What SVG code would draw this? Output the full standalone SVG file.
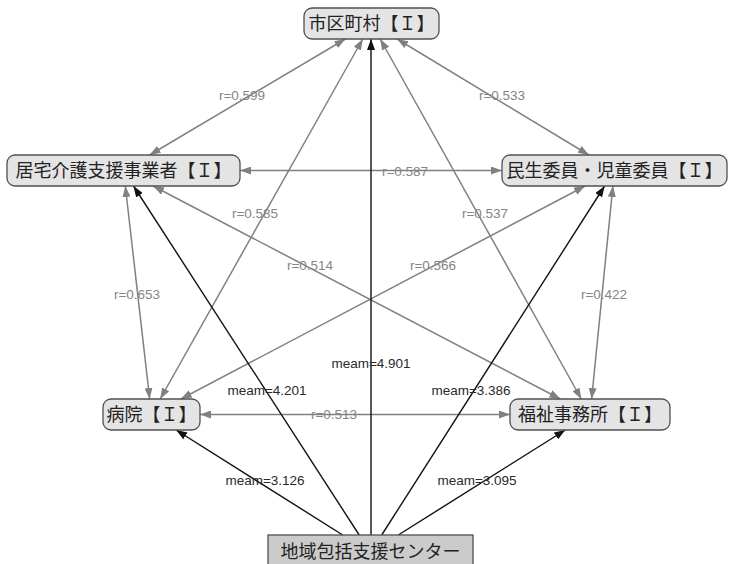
<svg xmlns="http://www.w3.org/2000/svg" width="730" height="564" viewBox="0 0 730 564">
  <style>
    .node rect { fill: #e4e4e4; stroke: #505050; stroke-width: 1.3; }
    .node.hub rect { fill: #cbcbcb; }
    .node text { font-family: "Noto Sans CJK JP", "Noto Sans", sans-serif; font-size: 18px; fill: #222; text-anchor: middle; }
    .corr { stroke: #808080; stroke-width: 1.5; fill: none; marker-start: url(#arrGray); marker-end: url(#arrGray); }
    .mean { stroke: #111; stroke-width: 1.4; fill: none; marker-end: url(#arrBlack); }
    .lbl { font-family: "Liberation Sans", Arial, sans-serif; font-size: 13.5px; text-anchor: middle; }
    .lbl.r { fill: #858585; }
    .lbl.m { fill: #2a2a2a; }
  </style>
  <defs>
    <marker id="arrGray" viewBox="0 0 11 8" refX="11" refY="4" markerWidth="11" markerHeight="8" markerUnits="userSpaceOnUse" orient="auto-start-reverse">
      <path d="M0,0 L11,4 L0,8 z" fill="#808080"/>
    </marker>
    <marker id="arrBlack" viewBox="0 0 11 8" refX="11" refY="4" markerWidth="11" markerHeight="8" markerUnits="userSpaceOnUse" orient="auto">
      <path d="M0,0 L11,4 L0,8 z" fill="#111"/>
    </marker>
  </defs>

  <!-- connectors -->
  <g id="connectors">
    <!-- correlations between the five partners (double-headed) -->
    <line class="corr" x1="345.4" y1="39" x2="149.6" y2="155"/>
    <line class="corr" x1="397.1" y1="39" x2="588.9" y2="155"/>
    <line class="corr" x1="362.8" y1="39" x2="160.2" y2="399"/>
    <line class="corr" x1="380.2" y1="39" x2="581.3" y2="399"/>
    <line class="corr" x1="240" y1="170.5" x2="502" y2="170.5"/>
    <line class="corr" x1="125.3" y1="186" x2="149.7" y2="399"/>
    <line class="corr" x1="612.9" y1="186" x2="591.6" y2="399"/>
    <line class="corr" x1="153.1" y1="186" x2="560.4" y2="399"/>
    <line class="corr" x1="585.1" y1="186" x2="180.9" y2="399"/>
    <line class="corr" x1="200" y1="414.5" x2="510" y2="414.5"/>
    <!-- means from the centre -->
    <line class="mean" x1="371" y1="535" x2="371" y2="39"/>
    <line class="mean" x1="359.2" y1="535" x2="133.5" y2="186"/>
    <line class="mean" x1="381.7" y1="535" x2="604.6" y2="186"/>
    <line class="mean" x1="342.7" y1="535" x2="176.1" y2="430"/>
    <line class="mean" x1="398.3" y1="535" x2="565.3" y2="430"/>

    <!-- edge labels -->
    <text class="lbl r" x="242" y="100">r=0.599</text>
    <text class="lbl r" x="502" y="100">r=0.533</text>
    <text class="lbl r" x="405" y="176">r=0.587</text>
    <text class="lbl r" x="255" y="218">r=0.585</text>
    <text class="lbl r" x="485" y="218">r=0.537</text>
    <text class="lbl r" x="310" y="270">r=0.514</text>
    <text class="lbl r" x="433" y="270">r=0.566</text>
    <text class="lbl r" x="137" y="299">r=0.653</text>
    <text class="lbl r" x="604" y="299">r=0.422</text>
    <text class="lbl r" x="334" y="419">r=0.513</text>
    <text class="lbl m" x="371" y="368">meam=4.901</text>
    <text class="lbl m" x="267" y="395">meam=4.201</text>
    <text class="lbl m" x="471" y="395">meam=3.386</text>
    <text class="lbl m" x="265" y="485">meam=3.126</text>
    <text class="lbl m" x="477" y="485">meam=3.095</text>
  </g>

  <!-- nodes -->
  <g id="node-municipality" class="node">
    <rect x="304" y="8" width="135" height="31" rx="8"/>
    <text x="371.5" y="30">市区町村【Ｉ】</text>
  </g>
  <g id="node-care-office" class="node">
    <rect x="7" y="155" width="233" height="31" rx="8"/>
    <text x="123.5" y="177">居宅介護支援事業者【Ｉ】</text>
  </g>
  <g id="node-welfare-commissioner" class="node">
    <rect x="502" y="155" width="225" height="31" rx="8"/>
    <text x="614.5" y="177">民生委員・児童委員【Ｉ】</text>
  </g>
  <g id="node-hospital" class="node">
    <rect x="103" y="399" width="97" height="31" rx="8"/>
    <text x="151.5" y="421">病院【Ｉ】</text>
  </g>
  <g id="node-welfare-office" class="node">
    <rect x="510" y="399" width="160" height="31" rx="8"/>
    <text x="590" y="421">福祉事務所【Ｉ】</text>
  </g>
  <g id="node-center" class="node hub">
    <rect x="268" y="535" width="205" height="36"/>
    <text x="370.5" y="558">地域包括支援センター</text>
  </g>
</svg>
